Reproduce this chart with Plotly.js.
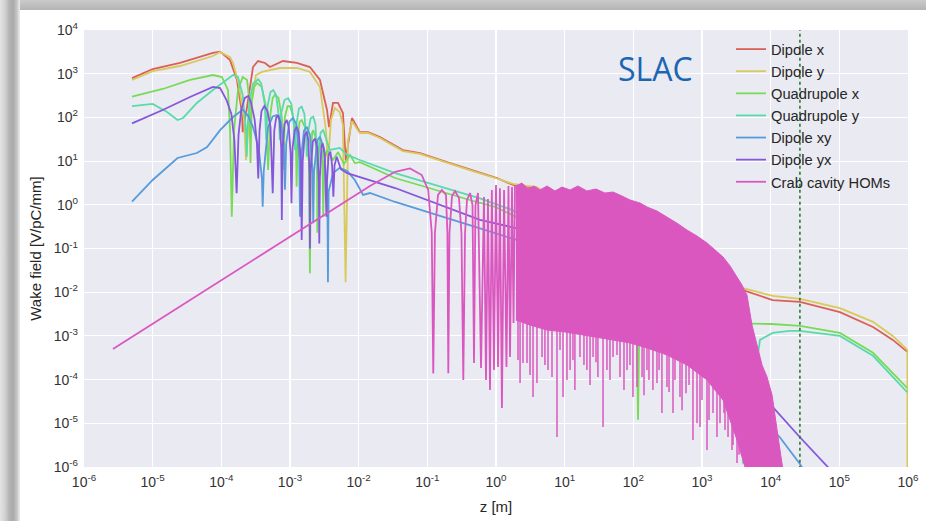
<!DOCTYPE html>
<html><head><meta charset="utf-8">
<script src="https://cdn.plot.ly/plotly-3.0.1.min.js"></script>
<style>
html,body{margin:0;padding:0;background:#fff;width:926px;height:521px;overflow:hidden;}
#frameTop{position:absolute;left:0;top:0;width:926px;height:10px;background:linear-gradient(to bottom,#cacaca,#b4b4b4);}
#frameLeft{position:absolute;left:0;top:0;width:20px;height:521px;background:linear-gradient(to right,#e4e4e4 0px,#d2d2d2 5px,#b5b5b5 9px,#a9a9a9 13px,#c6c6c6 17px,#eeeeee 20px);}
#chart{position:absolute;left:0;top:0;width:926px;height:521px;}
</style></head><body>
<div id="frameTop"></div><div id="frameLeft"></div><div id="chart"></div>
<script>
// ---- data (z in m, wake in V/pC/mm) ----
const seriesNames = ["Dipole x","Dipole y","Quadrupole x","Quadrupole y","Dipole xy","Dipole yx","Crab cavity HOMs"];

const dipXZ = [5e-6,1e-5,2.5e-5,7.55e-5,9.6e-5,1.34e-4,1.69e-4,2.0e-4,2.05e-4,2.37e-4,2.89e-4,3.42e-4,4.33e-4,5.1e-4,7.9e-4,1.26e-3,1.95e-3,2.73e-3,3.46e-3,3.7e-3,4.23e-3,5.0e-3,5.9e-3,6.5e-3,8.0e-3,1.04e-2,1.37e-2,2.04e-2,4.4e-2,7.8e-2,0.193,0.46,1.03,1.77,2.83,3.95,5.2,3950,1.07e4,2.67e4,1.02e5,3.09e5,6.0e5,9.8e5];
const dipXW = [790,1280,1760,2980,3190,2050,718,126,46,173,1420,1950,1760,1420,1950,1760,1420,718,148,60,214,214,126,10.6,97,46,46,35.6,17.9,15.3,9.5,6.25,4.1,2.84,2.55,2.42,1.68,0.0112,6.6e-3,6.0e-3,3.5e-3,1.6e-3,8.1e-4,4.3e-4];

const dipYZ = [5e-6,1e-5,2.5e-5,7.55e-5,9.6e-5,1.34e-4,1.48e-4,1.81e-4,2.14e-4,2.29e-4,2.53e-4,2.8e-4,3.2e-4,3.9e-4,5.1e-4,7.1e-4,1.26e-3,1.95e-3,2.73e-3,3.34e-3,3.57e-3,3.95e-3,4.5e-3,5.3e-3,5.9e-3,6.45e-3,7.0e-3,8.0e-3,1.04e-2,1.37e-2,2.04e-2,4.4e-2,7.8e-2,0.193,0.46,1.03,1.77,2.83,3.95,5.2,3950,1.07e4,2.67e4,1.02e5,3.09e5,6.0e5,9.8e5,9.8e5];
const dipYW = [718,1150,1500,2540,3150,2400,1760,551,87,10.5,87,250,933,1100,1220,1350,1350,1100,497,51.5,9.1,87,164,132,67,0.017,30,82,44,44,33.7,17,14.6,9.0,5.9,4.0,3.0,2.7,2.55,1.86,0.0124,8.2e-3,7.0e-3,4.3e-3,2.1e-3,1.0e-3,4.8e-4,1e-7];

const quadXZ = [5e-6,1.4e-5,3.5e-5,7.55e-5,1.02e-4,1.25e-4,1.34e-4,1.42e-4,1.53e-4,1.75e-4,2.05e-4,2.37e-4,2.55e-4,2.66e-4,2.78e-4,3.0e-4,3.3e-4,3.87e-4,4.4e-4,4.8e-4,5.2e-4,5.6e-4,6.0e-4,6.8e-4,7.6e-4,8.0e-4,8.4e-4,9.2e-4,1.0e-3,1.12e-3,1.22e-3,1.25e-3,1.29e-3,1.38e-3,1.48e-3,1.65e-3,1.88e-3,1.95e-3,2.02e-3,2.1e-3,2.18e-3,2.35e-3,2.47e-3,2.5e-3,2.55e-3,2.7e-3,2.8e-3,2.95e-3,3.05e-3,3.15e-3,3.46e-3,4.23e-3,5.0e-3,6.1e-3,7.5e-3,8.8e-3,1.04e-2,3.4e-2,0.585,0.97,109,117,125,3570,1.04e4,2.67e4,1.02e5,3.09e5,9.7e5];
const quadXW = [298,447,718,933,840,424,51,0.53,51,424,840,718,250,9.1,250,500,612,505,200,6.3,126,280,324,280,100,6.3,100,180,180,100,20,2.6,30,80,87,60,10,0.027,10,45,51,35,5,0.23,5,28,30,15,0.53,10,18,10.6,16,8.6,13.8,9.0,9.5,4.1,1.1,0.9,0.026,1.2e-5,0.025,1.94e-3,1.87e-3,1.69e-3,1.17e-3,4.1e-4,6.5e-5];

const quadYZ = [5e-6,1e-5,1.62e-5,2.3e-5,2.77e-5,4.4e-5,7.55e-5,1.19e-4,1.48e-4,1.75e-4,2.05e-4,2.3e-4,2.34e-4,2.4e-4,2.6e-4,2.9e-4,3.45e-4,3.8e-4,4.3e-4,4.5e-4,4.7e-4,5.2e-4,5.7e-4,6.3e-4,6.9e-4,7.1e-4,7.4e-4,8.3e-4,9.4e-4,1.05e-3,1.15e-3,1.18e-3,1.22e-3,1.35e-3,1.48e-3,1.62e-3,1.73e-3,1.75e-3,1.8e-3,2.0e-3,2.18e-3,2.35e-3,2.47e-3,2.5e-3,2.56e-3,2.8e-3,3.05e-3,3.4e-3,3.8e-3,5.3e-3,6.8e-3,1.04e-2,3.4e-2,0.585,1.77,1000,3700,3950,6980,1.07e4,1.91e4,2.67e4,1.02e5,3.09e5,9.7e5];
const quadYW = [182,203,133,87,97,214,424,718,933,840,324,40,12.6,60,250,600,745,600,200,30,180,380,424,320,100,30,120,250,274,200,60,18,60,160,176,120,30,12.6,40,95,104,70,15,6.3,15,45,51,30,18,20,13.9,10.6,5.3,1.4,0.75,2e-3,1e-3,1.2e-6,8.1e-4,1.17e-3,1.3e-3,1.3e-3,1.0e-3,3.5e-4,5.2e-5];

const dipXYZ = [5e-6,1e-5,2.3e-5,4.4e-5,6.2e-5,9.6e-5,1.48e-4,2.05e-4,2.45e-4,2.89e-4,3.5e-4,3.9e-4,4.0e-4,4.15e-4,4.8e-4,5.6e-4,6.4e-4,7.3e-4,8.1e-4,8.45e-4,8.8e-4,9.8e-4,1.1e-3,1.24e-3,1.36e-3,1.4e-3,1.45e-3,1.6e-3,1.75e-3,1.95e-3,2.13e-3,2.18e-3,2.24e-3,2.5e-3,2.73e-3,3.1e-3,3.5e-3,3.57e-3,3.65e-3,4.23e-3,5.3e-3,6.8e-3,8.8e-3,1.16e-2,1.46e-2,3.4e-2,0.585,2.0,1000,1.07e4,1.36e4,2.67e4,3.7e4];
const dipXYW = [1.18,3.7,11.8,15.3,21,51,102,150,110,60,20,4,0.9,6,60,105,113,80,25,2.2,25,80,97,70,12,0.53,12,50,61,40,6,0.38,6,30,36,20,2,0.017,2,5.3,7.0,5.9,3.7,1.68,1.86,1.16,0.29,0.157,3e-4,7.0e-6,4.8e-6,1.17e-6,5e-7];

const dipYXZ = [5e-6,1.4e-5,3.5e-5,7.55e-5,9.6e-5,1.19e-4,1.4e-4,1.55e-4,1.67e-4,1.78e-4,1.95e-4,2.2e-4,2.47e-4,2.7e-4,3.05e-4,3.3e-4,3.45e-4,3.6e-4,3.85e-4,4.23e-4,4.7e-4,5.2e-4,5.6e-4,5.9e-4,6.3e-4,6.77e-4,7.1e-4,7.45e-4,7.6e-4,7.8e-4,8.3e-4,8.95e-4,9.6e-4,1.02e-3,1.05e-3,1.09e-3,1.17e-3,1.25e-3,1.34e-3,1.44e-3,1.48e-3,1.53e-3,1.63e-3,1.75e-3,1.85e-3,1.93e-3,1.95e-3,1.98e-3,2.15e-3,2.31e-3,2.5e-3,2.63e-3,2.67e-3,2.72e-3,2.87e-3,2.99e-3,3.2e-3,3.36e-3,3.39e-3,3.44e-3,3.65e-3,3.87e-3,4.1e-3,4.28e-3,4.45e-3,4.8e-3,5.5e-3,6.8e-3,3.4e-2,0.585,2.0,1.07e4,2.67e4,6.8e4,1.02e5];
const dipYXW = [73,148,293,497,471,250,120,30,1.83,40,150,280,309,220,90,25,4.0,50,140,182,140,60,1.83,50,100,113,80,20,0.45,20,70,87,60,15,1.08,20,50,61,45,10,0.157,10,38,47,30,5,0.1,5,28,33,20,3,0.13,4,22,25.5,15,2,0.53,3,14,16.4,8,1.53,8,12.6,6.5,5.3,2.42,0.45,0.29,2.36e-5,4.8e-6,1e-6,4e-7];

// crab cavity HOMs: rising line, arches, then dense band (top/bottom envelopes + downward spikes)
const crabZ = [2.64e-6,5.35e-3,1.46e-2,3.4e-2,5.6e-2,8.3e-2,0.103,0.116,0.122,0.129,0.143,0.163,0.187,0.196,0.202,0.21,0.229,0.253,0.289,0.314,0.334,0.354,0.378,0.419,0.455,0.478,0.502,0.547,0.605,0.668,0.715,0.764,0.818,0.87,0.935,1.0,1.07,1.14,1.22,1.31,1.42,1.52,1.6,1.71,1.8,1.89];
const crabW = [5.0e-4,1.0,2.7,5.7,6.8,4.8,2.18,0.226,1.38e-4,0.226,1.68,2.18,1.68,0.226,1.39e-4,0.226,1.59,2.07,1.43,0.226,9.8e-5,0.226,1.29,1.86,0.99,2.4e-4,0.99,1.86,1.84e-4,1.51,9.8e-5,1.36,5.8e-5,2.18,1.66e-4,2.84,1.94e-4,2.4,2.24e-5,2.18,1.94e-4,2.7,3.3e-4,2.55,1.97e-3,2.7];
const crabTopZ = [1.95,2.39,2.92,3.57,4.37,5.53,7.22,9.14,12.0,15.6,21.1,28.6,38.6,50.6,68.4,89.4,125,158,221,309,432,604,846,1183,1549,2023,2560,3236,3820,4519,5346,6324,7482,8851,1.05e4,1.24e4,1.51e4];
const crabTopW = [2.7,3.15,2.3,2.7,2.18,2.7,2.07,2.55,2.18,2.7,2.07,2.3,1.86,1.96,1.59,1.29,1.1,0.89,0.72,0.53,0.38,0.265,0.193,0.134,0.092,0.064,0.04,0.0223,0.0146,8.6e-3,1.78e-3,6.2e-4,2.16e-4,1.15e-4,4.4e-5,7.0e-6,8.5e-7];
const crabBotZ = [1.51e4,6980,4227,3236,2023,1183,604,309,158,89.4,50.6,32.7,16.7,10.1,5.53,3.13,1.95];
const crabBotW = [5e-7,5e-7,1e-6,4.15e-6,3.4e-5,9.8e-5,2.16e-4,3.66e-4,5.3e-4,6.9e-4,8.05e-4,8.95e-4,1.05e-3,1.23e-3,1.36e-3,1.77e-3,2.3e-3];
const crabSpikeZ = [2.24,2.47,2.83,3.46,3.95,4.68,5.72,6.54,7.73,9.46,12.0,14.1,16.7,21.1,25.9,30.5,36.2,41.3,50.6,64,81,98.8,113,134,158,193,221,261,309,378,478,585,739,846,935,1183,1446,1652,1829,2089,2393,2735,3236,
  2.09,3.13,5.16,8.55,10.8,13.2,19.1,23.4,28.6,45.7,57.8,73.1,89.4,143,169,237,331,404,512,647,1000,1265,2163,2831,3460];
const crabSpikeW = [8.4e-5,2.4e-4,2.4e-4,4.0e-5,8.4e-5,3.3e-4,1.66e-4,1.15e-4,4.85e-6,4.0e-5,1.66e-4,5.8e-5,3.3e-4,1.66e-4,3.3e-4,1.15e-4,8.2e-6,1.66e-4,3.3e-4,1.15e-4,1.66e-4,4.0e-5,6.8e-5,1.15e-4,1.66e-4,5.8e-5,8.4e-5,1.72e-5,6.8e-5,1.72e-5,4.0e-5,4.9e-5,4.15e-6,1.0e-5,8.2e-6,2.45e-6,1.72e-5,4.85e-6,1.0e-5,1.72e-5,4.85e-6,2.45e-6,1.24e-6,
  2.8e-4,1.27e-4,2.16e-4,4.75e-4,9.8e-5,2.8e-4,2.16e-4,7.5e-5,2.5e-4,9.8e-5,3.66e-4,5.8e-5,2.16e-4,4.4e-5,9.8e-5,1.66e-4,5.2e-5,9.8e-5,2.0e-5,7.5e-5,3.4e-5,1.19e-5,7.0e-6,3.2e-6,1.9e-6];
const crabSpikeStartW = 3e-3;

const lhcZ = 26659;               // dotted marker position
const lhcSpanW = [1e-7, 1e5];

const xTickVals = [1e-6,1e-5,1e-4,1e-3,1e-2,1e-1,1,1e1,1e2,1e3,1e4,1e5,1e6];
const xTickText = ["10<sup>-6</sup>","10<sup>-5</sup>","10<sup>-4</sup>","10<sup>-3</sup>","10<sup>-2</sup>","10<sup>-1</sup>","10<sup>0</sup>","10<sup>1</sup>","10<sup>2</sup>","10<sup>3</sup>","10<sup>4</sup>","10<sup>5</sup>","10<sup>6</sup>"];
const yTickVals = [1e-6,1e-5,1e-4,1e-3,1e-2,1e-1,1,1e1,1e2,1e3,1e4];
const yTickText = ["10<sup>-6</sup>","10<sup>-5</sup>","10<sup>-4</sup>","10<sup>-3</sup>","10<sup>-2</sup>","10<sup>-1</sup>","10<sup>0</sup>","10<sup>1</sup>","10<sup>2</sup>","10<sup>3</sup>","10<sup>4</sup>"];

const xTitle = "z [m]";
const yTitle = "Wake field [V/pC/mm]";
const label = "SLAC";

// ---- styles ----
const colors = ["#db5f57","#d9c95a","#78db57","#57dbab","#579bdb","#8457db","#db57c0"];
const LW = 1.8;

function lineTrace(i, x, y){
  return {type:"scatter", mode:"lines", name:seriesNames[i], x:x, y:y,
          line:{color:colors[i], width:LW}, hoverinfo:"skip"};
}

const spX = [], spY = [];
crabSpikeZ.forEach((z,k)=>{ spX.push(z,z,null); spY.push(crabSpikeStartW, crabSpikeW[k], null); });

const traces = [
  lineTrace(0, dipXZ, dipXW),
  lineTrace(1, dipYZ, dipYW),
  lineTrace(2, quadXZ, quadXW),
  lineTrace(3, quadYZ, quadYW),
  lineTrace(4, dipXYZ, dipXYW),
  lineTrace(5, dipYXZ, dipYXW),
  lineTrace(6, crabZ, crabW),
  {type:"scatter", mode:"lines", x:crabTopZ.concat(crabBotZ), y:crabTopW.concat(crabBotW),
   fill:"toself", fillcolor:colors[6], line:{color:colors[6], width:1}, showlegend:false, hoverinfo:"skip"},
  {type:"scatter", mode:"lines", x:spX, y:spY, connectgaps:false,
   line:{color:colors[6], width:1.5}, showlegend:false, hoverinfo:"skip"},
  {type:"scatter", mode:"lines", x:[lhcZ,lhcZ], y:lhcSpanW,
   line:{color:"#2b7a2b", width:1.6, dash:"dot"}, showlegend:false, hoverinfo:"skip"}
];

const FAM = "Liberation Sans, Arial, sans-serif";
const axisFont = {family:FAM, size:14, color:"#333333"};
const layout = {
  width:926, height:521,
  margin:{l:84, r:18, t:30, b:54, pad:0},
  paper_bgcolor:"rgba(0,0,0,0)", plot_bgcolor:"#eaeaf2",
  font:{family:FAM, size:14, color:"#333333"},
  showlegend:true,
  legend:{x:0.7852, y:0.993, xanchor:"left", yanchor:"top", bgcolor:"rgba(0,0,0,0)",
          font:{family:FAM, size:14.7, color:"#262626"}},
  xaxis:{type:"log", range:[-6,6], tickmode:"array", tickvals:xTickVals, ticktext:xTickText, showgrid:true,
         gridcolor:"#ffffff", gridwidth:1.2, zeroline:false, showline:false, ticks:"",
         tickfont:axisFont, ticklabelstandoff:5,
         title:{text:xTitle, font:{family:FAM, size:15, color:"#262626"}, standoff:12}},
  yaxis:{type:"log", range:[-6,4], tickmode:"array", tickvals:yTickVals, ticktext:yTickText, showgrid:true,
         gridcolor:"#ffffff", gridwidth:1.2, zeroline:false, showline:false, ticks:"",
         tickfont:axisFont, ticklabelstandoff:5,
         title:{text:yTitle, font:{family:FAM, size:15, color:"#262626"}, standoff:8}},
  annotations:[{text:label, xref:"paper", yref:"paper", x:0.6936, y:0.913, xanchor:"center", yanchor:"middle",
                showarrow:false, font:{family:"Open Sans, Noto Sans, sans-serif", size:32, color:"#1a66b2"}}]
};

Plotly.newPlot("chart", traces, layout, {staticPlot:true, displayModeBar:false});
</script></body></html>
